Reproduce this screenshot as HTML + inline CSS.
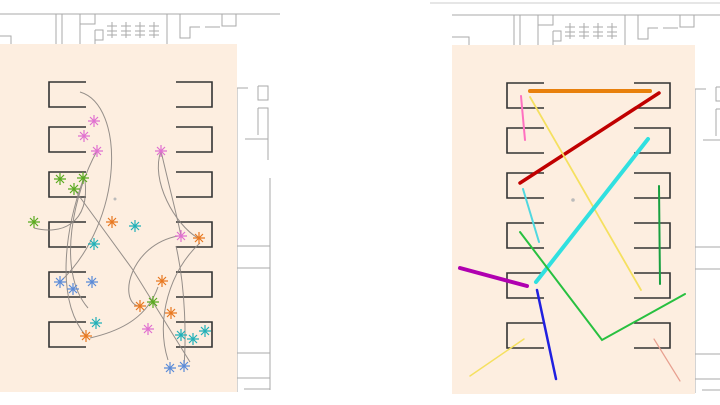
<!DOCTYPE html>
<html><head><meta charset="utf-8"><style>html,body{margin:0;padding:0;background:#fff;}svg{display:block}</style></head>
<body>
<svg width="720" height="405" viewBox="0 0 720 405" xmlns="http://www.w3.org/2000/svg">
<defs>
<g id="plan" fill="none" stroke="#aaa" stroke-width="1">
  <path d="M-6 14 H280"/>
  <path d="M-6 36 H11 V44"/>
  <path d="M56 14 V44 M62 14 V44 M80 14 V44 M80 24 H95 V14 M95 30 H103 V40 H95 V30 M95 30 V44"/>
  <path d="M112 22 V38 M107 26 H117 M107 31 H117 M107 35 H117"/>
  <path d="M126 22 V38 M121 26 H131 M121 31 H131 M121 35 H131"/>
  <path d="M140 22 V38 M135 26 H145 M135 31 H145 M135 35 H145"/>
  <path d="M154 22 V38 M149 26 H159 M149 31 H159 M149 35 H159"/>
  <path d="M167 14 V44 M180 14 V38 H190 V27 H200 M205 27 H220 M222 14 V26 H236 V14"/>
  <path d="M237 88 H248 M258 86 V100 H268 V86 H258 M258 108 H268 V160 M245 139 H268 M258 108 V135 M237 88 V392"/>
  <path d="M270 178 V390 M237 246 H270 M237 268 H270 M237 353 H270 M237 378 H270 M244 389 H270"/>
</g>
<g id="brk" fill="none" stroke="#333" stroke-width="1.6">
  <path d="M86 82 H49 V107 H86"/><path d="M86 127 H49 V152 H86"/><path d="M86 172 H49 V197 H86"/>
  <path d="M86 222 H49 V247 H86"/><path d="M86 272 H49 V297 H86"/><path d="M86 322 H49 V347 H86"/>
  <path d="M176 82 H212 V107 H176"/><path d="M176 127 H212 V152 H176"/><path d="M176 172 H212 V197 H176"/>
  <path d="M176 222 H212 V247 H176"/><path d="M176 272 H212 V297 H176"/><path d="M176 322 H212 V347 H176"/>
</g>
<g id="st"><path d="M-6 0 H6 M0 -6 V6 M-4 -4 L4 4 M-4 4 L4 -4" stroke-width="1.2" fill="none"/></g>
<clipPath id="cl"><rect x="0" y="0" width="282" height="405"/></clipPath>
<clipPath id="cr"><rect x="452" y="0" width="268" height="405"/></clipPath>
</defs>

<!-- left panel -->
<g clip-path="url(#cl)"><use href="#plan"/></g>
<rect x="0" y="44" width="237" height="348" fill="#fdeee0"/>
<use href="#brk"/>
<circle cx="115" cy="199" r="1.5" fill="#bbb"/>
<g fill="none" stroke="#8a8480" stroke-width="1" opacity="0.9">
  <path d="M80 92 C125 105 125 220 60 282"/>
  <path d="M97 151 C75 190 55 270 88 308"/>
  <path d="M34 228 C60 235 90 225 85 180"/>
  <path d="M74 189 L133 270 L190 362"/>
  <path d="M83 180 C65 230 55 300 86 336"/>
  <path d="M90 338 C125 330 148 315 158 287"/>
  <path d="M161 151 C150 180 175 225 198 238"/>
  <path d="M161 151 C170 190 178 220 181 236"/>
  <path d="M178 236 C130 245 118 300 138 306"/>
  <path d="M200 243 C170 270 155 320 168 360"/>
  <path d="M176 246 C186 290 186 340 184 366"/>
</g>
<g stroke="#e070d0"><use href="#st" x="94" y="121"/><use href="#st" x="84" y="136"/><use href="#st" x="97" y="151"/><use href="#st" x="161" y="151"/><use href="#st" x="181" y="236"/><use href="#st" x="148" y="329"/></g>
<g stroke="#5aaa20"><use href="#st" x="60" y="179"/><use href="#st" x="83" y="178"/><use href="#st" x="74" y="189"/><use href="#st" x="34" y="222"/><use href="#st" x="153" y="302"/></g>
<g stroke="#e87820"><use href="#st" x="112" y="222"/><use href="#st" x="199" y="238"/><use href="#st" x="162" y="281"/><use href="#st" x="140" y="306"/><use href="#st" x="171" y="313"/><use href="#st" x="86" y="336"/></g>
<g stroke="#20b0b8"><use href="#st" x="135" y="226"/><use href="#st" x="94" y="244"/><use href="#st" x="96" y="323"/><use href="#st" x="181" y="335"/><use href="#st" x="193" y="339"/><use href="#st" x="205" y="331"/></g>
<g stroke="#5a8ad8"><use href="#st" x="60" y="282"/><use href="#st" x="73" y="289"/><use href="#st" x="92" y="282"/><use href="#st" x="170" y="368"/><use href="#st" x="184" y="366"/></g>

<!-- right panel -->
<path d="M430 3 H720" stroke="#ddd" stroke-width="1.5"/>
<g clip-path="url(#cr)"><use href="#plan" x="458" y="1"/></g>
<rect x="452" y="45" width="243" height="349" fill="#fdeee0"/>
<use href="#brk" x="458" y="1"/>
<circle cx="573" cy="200" r="1.8" fill="#bbb"/>
<g fill="none" stroke-linecap="round">
  <path d="M530 91 H650" stroke="#e8800c" stroke-width="4"/>
  <path d="M520 183 L659 93" stroke="#c00000" stroke-width="3.5"/>
  <path d="M521 96 L525 140" stroke="#ff70c0" stroke-width="2"/>
  <path d="M530 97 L641 290" stroke="#f5e060" stroke-width="1.8"/>
  <path d="M648 139 L536 282" stroke="#30e0e0" stroke-width="4"/>
  <path d="M523 189 L539 242" stroke="#50d8e0" stroke-width="2"/>
  <path d="M659 186 L660 284" stroke="#18a040" stroke-width="2"/>
  <path d="M520 232 L602 340 L685 294" stroke="#28c040" stroke-width="2"/>
  <path d="M460 268 L527 286" stroke="#b000b0" stroke-width="4"/>
  <path d="M537 290 L556 379" stroke="#2020e0" stroke-width="2.5"/>
  <path d="M470 376 L524 339" stroke="#f5e060" stroke-width="1.5"/>
  <path d="M654 339 L680 381" stroke="#e8a090" stroke-width="1.2"/>
</g>
</svg>
</body></html>
